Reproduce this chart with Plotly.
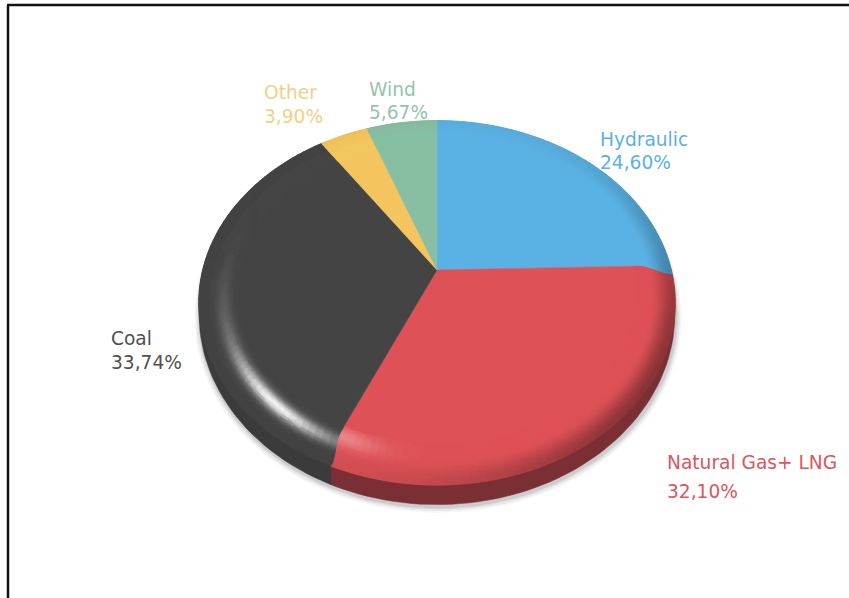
import math
import plotly.graph_objects as go

# Electricity generation mix, clockwise from twelve o'clock
sources = ["Hydraulic", "Natural Gas+ LNG", "Coal", "Other", "Wind"]
shares = [24.60, 32.10, 33.74, 3.90, 5.67]
slice_colors = ["#5AB1E3", "#DE5257", "#444444", "#F4C55F", "#88BFA3"]
side_colors = ["#3F7FA6", "#7A2F35", "#3B3B3B", "#B08F45", "#608A75"]
text_colors = ["#5CB0E2", "#DC565C", "#505050", "#F3CF85", "#93C4AC"]

# Label placement: left edge, first line y, second line y
label_x = [600, 667, 111, 264, 369]
label_y1 = [139, 462, 338, 92, 89]
label_y2 = [162, 491, 362, 116, 112]

# Tilted-disc projection parameters
APEX_X, APEX_Y = 437, 270
SCALE_X, SCALE_Y = 234, 176
PERSPECTIVE = 0.18
DEPTH = 20
BEVEL_START = 0.84
RING_STEP = 0.006
ANGLE_STEP = 2.0
RIM_BEND = 3.0


def smooth(a, b, v):
    t = min(1.0, max(0.0, (v - a) / (b - a)))
    return t * t * (3 - 2 * t)


def project(radius, degrees, drop=0.0):
    # Boundaries on the front half lean towards the viewer as they roll over the rim
    s = math.sin(math.radians(degrees))
    c = math.cos(math.radians(degrees))
    front = 1 - smooth(0.0, 0.5, c)
    bend = RIM_BEND * front * smooth(0.86, 1.0, radius) * math.copysign(abs(s) ** 0.5, s)
    a = math.radians(degrees + bend)
    px, py = radius * math.sin(a), radius * math.cos(a)
    w = 1 + PERSPECTIVE * py
    return APEX_X + SCALE_X * px / w, APEX_Y - SCALE_Y * py / w + drop


def wall_drop(degrees):
    # The wall is only visible towards the front of the disc
    return DEPTH * (1 - math.cos(math.radians(degrees))) / 2


def arc_angles(start, end):
    n = max(2, int(math.ceil((end - start) / ANGLE_STEP)))
    return [start + (end - start) * i / n for i in range(n + 1)]


def hex_rgb(c):
    return tuple(int(c[i:i + 2], 16) for i in (1, 3, 5))


def bump(v, centre, width):
    return math.exp(-((v - centre) / width) ** 2)


def bevel_color(base, radius, degrees):
    """Shade a point on the rounded rim: dark on the lower right, glint on the lower left."""
    shade = smooth(0.90, 1.0, radius) * (0.02 + 0.36 * bump(degrees, 122, 52))
    glint = 0.88 * bump(radius, 0.905, 0.026) * bump(degrees, 222, 17)
    glint += 0.16 * bump(radius, 0.90, 0.03) * bump(degrees, 245, 25)
    if base[0] > 150 and base[1] < 120:
        glint = 0.30 * bump(radius, 0.88, 0.035) * bump(degrees, 203, 9)
    rgb = [c * (1 - shade) for c in base]
    rgb = [c + (255 - c) * min(1.0, glint) for c in rgb]
    return tuple(min(255, int(round(c / 3) * 3)) for c in rgb)


fig = go.Figure()


def add_polygon(xs, ys, color, width=0.5):
    fig.add_trace(go.Scatter(
        x=xs, y=ys, mode="lines", fill="toself", fillcolor=color,
        line=dict(color=color, width=width), hoverinfo="skip", showlegend=False,
    ))


# Cumulative slice boundaries in degrees
bounds = [0.0]
for share in shares:
    bounds.append(bounds[-1] + share / sum(shares) * 360)

# Soft drop shadow below the disc
for grow, alpha in [(1.022, 0.05), (1.016, 0.07), (1.010, 0.09), (1.005, 0.12)]:
    pts = [project(grow, a, wall_drop(a) + 2) for a in range(0, 361, 3)]
    add_polygon([p[0] + 1 for p in pts], [p[1] for p in pts], f"rgba(90,90,90,{alpha})")

# Side wall of the disc
for i in range(len(shares)):
    angles = arc_angles(bounds[i], bounds[i + 1])
    outer = [project(1, a) for a in angles]
    lower = [project(1, a, wall_drop(a)) for a in reversed(angles)]
    add_polygon([p[0] for p in outer + lower], [p[1] for p in outer + lower], side_colors[i])

# Flat top of each slice, running under the rim so ring seams stay hidden
for i in range(len(shares)):
    angles = arc_angles(bounds[i], bounds[i + 1])
    spoke_a = [project(r, angles[0]) for r in (BEVEL_START, 0.90, 0.95, 1.0)]
    spoke_b = [project(r, angles[-1]) for r in (1.0, 0.95, 0.90, BEVEL_START)]
    pts = [(APEX_X, APEX_Y)] + spoke_a + [project(1.0, a) for a in angles[1:-1]] + spoke_b + [(APEX_X, APEX_Y)]
    add_polygon([p[0] for p in pts], [p[1] for p in pts], slice_colors[i])

# Rounded rim, grouped by shade to keep the trace count down
quads = {}
for i in range(len(shares)):
    base = hex_rgb(slice_colors[i])
    angles = arc_angles(bounds[i], bounds[i + 1])
    steps = int(round((1 - BEVEL_START) / RING_STEP))
    for k in range(steps):
        r0 = BEVEL_START + k * RING_STEP
        r1 = r0 + RING_STEP
        for a0, a1 in zip(angles[:-1], angles[1:]):
            color = bevel_color(base, (r0 + r1) / 2, (a0 + a1) / 2)
            corners = [project(r0, a0), project(r1, a0), project(r1, a1), project(r0, a1), project(r0, a0)]
            bucket = quads.setdefault(color, ([], []))
            bucket[0].extend([p[0] for p in corners] + [None])
            bucket[1].extend([p[1] for p in corners] + [None])

for color, (xs, ys) in quads.items():
    add_polygon(xs, ys, "rgb(%d,%d,%d)" % color, width=0.8)

# Two-line labels with decimal commas
for name, share, color, x, y1, y2 in zip(sources, shares, text_colors, label_x, label_y1, label_y2):
    for text, y in [(name, y1), (f"{share:.2f}%".replace(".", ","), y2)]:
        fig.add_annotation(
            x=x, y=y, text=text, showarrow=False, xanchor="left", yanchor="middle",
            xshift=-2, font=dict(family="DejaVu Sans", size=18.6, color=color),
        )

# Frame along the top and left
fig.add_shape(type="line", x0=8, y0=598, x1=8, y1=5, line=dict(color="#111111", width=2.5))
fig.add_shape(type="line", x0=7, y0=5, x1=849, y1=5, line=dict(color="#111111", width=2.5))

fig.update_layout(
    width=849, height=598, margin=dict(l=0, r=0, t=0, b=0),
    paper_bgcolor="white", plot_bgcolor="white", showlegend=False,
    xaxis=dict(range=[0, 849], visible=False, fixedrange=True),
    yaxis=dict(range=[598, 0], visible=False, fixedrange=True),
)

fig.write_html("out.html", config={"displayModeBar": False})
